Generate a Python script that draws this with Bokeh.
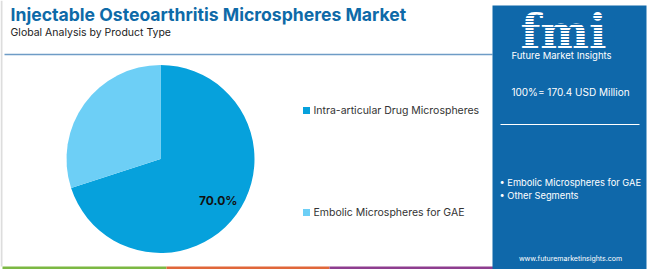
import math
from bokeh.plotting import figure
from bokeh.models import Range1d, ColumnDataSource
from bokeh.core.properties import value
from bokeh.embed import file_html
from bokeh.resources import INLINE

W, H = 650, 269

title = "Injectable Osteoarthritis Microspheres Market"
subtitle = "Global Analysis by Product Type"
categories = ["Intra-articular Drug Microspheres", "Embolic Microspheres for GAE"]
shares = [70.0, 30.0]
colors = ["#06a1dc", "#6dcff6"]
total_label = "100%= 170.4 USD Million"
panel_bullets = ["• Embolic Microspheres for GAE", "• Other Segments"]
website = "www.futuremarketinsights.com"

FONT = "Inter"
PANEL = "#0f68aa"

def Y(py):
    return H - py

p = figure(width=W, height=H, x_range=Range1d(0, W), y_range=Range1d(0, H),
           output_backend="svg", toolbar_location=None,
           x_axis_location=None, y_axis_location=None, min_border=0)
p.grid.visible = False
p.outline_line_color = None
p.background_fill_color = "white"
p.border_fill_color = "white"

# light page border on left
p.segment(x0=[1], y0=[Y(0)], x1=[1], y1=[Y(266)], line_color="#dddddd", line_width=2)

# title
p.text(x=[10], y=[Y(14)], text=[title], text_font=value(FONT), text_font_size="17.6px",
       text_font_style="bold", text_color="#0e6aa8", text_baseline="middle")
p.text(x=[10], y=[Y(31.5)], text=[subtitle], text_font=value(FONT), text_font_size="10.5px",
       text_color="#222222", text_baseline="middle")
p.segment(x0=[4], y0=[Y(54)], x1=[492], y1=[Y(54)], line_color="#6e9cc6", line_width=1.5)

# pie
cx, cy, r = 160, Y(158.5), 94
tot = sum(shares)
starts, ends = [], []
a = math.pi / 2
for s in shares:
    starts.append(a)
    a -= s / tot * 2 * math.pi
    ends.append(a)
src = ColumnDataSource(dict(start=starts, end=ends, color=colors))
p.wedge(x=cx, y=cy, radius=r, start_angle="start", end_angle="end", direction="clock",
        fill_color="color", line_color=None, source=src)

# label of the largest slice
mid = (starts[0] + ends[0]) / 2
lr = 0.76 * r
p.text(x=[cx + lr * math.cos(mid)], y=[cy + lr * math.sin(mid)],
       text=[f"{shares[0]:.1f}%"], text_font=value(FONT), text_font_size="12px",
       text_font_style="bold", text_color="#111111", text_align="center",
       text_baseline="middle")

# legend
leg_y = [Y(110), Y(212)]
p.rect(x=[306, 306], y=leg_y, width=7, height=7, fill_color=colors, line_color=None)
p.text(x=[313, 313], y=leg_y, text=categories, text_font=value(FONT), text_font_size="10.5px",
       text_color="#333333", text_baseline="middle")

# bottom strip
strip_cols = ["#7cb843", "#e0673a", "#8e3e8f"]
p.quad(left=[2, 166, 329], right=[166, 329, 493], bottom=[0, 0, 0], top=[3, 3, 3],
       fill_color=strip_cols, line_color=None)

# right panel
p.quad(left=[492], right=[646], bottom=[0], top=[Y(5)], fill_color=PANEL, line_color=None)
p.text(x=[563], y=[Y(31)], text=["fmi"], text_font=value("DejaVu Serif"), text_font_size="46px",
       text_font_style="bold", text_color="white", text_align="center", text_baseline="middle")
# stripes over logo
stripe_y = [Y(15 + 3 * i) for i in range(11)]
p.segment(x0=[512] * 11, y0=stripe_y, x1=[614] * 11, y1=stripe_y, line_color=PANEL, line_width=1)
p.text(x=[561], y=[Y(55)], text=["Future Market Insights"], text_font=value(FONT),
       text_font_size="9.5px", text_color="white", text_align="center", text_baseline="middle")
p.text(x=[570], y=[Y(91)], text=[total_label], text_font=value(FONT), text_font_size="10px",
       text_color="white", text_align="center", text_baseline="middle")
p.segment(x0=[500], y0=[Y(124)], x1=[639], y1=[Y(124)], line_color="white", line_width=1)
p.text(x=[499, 499], y=[Y(182), Y(195)], text=panel_bullets, text_font=value(FONT),
       text_font_size="9.3px", text_color="white", text_baseline="middle")
p.text(x=[570], y=[Y(258)], text=[website], text_font=value(FONT), text_font_size="7px",
       text_color="white", text_align="center", text_baseline="middle")

open("out.html", "w").write(file_html(p, INLINE))
